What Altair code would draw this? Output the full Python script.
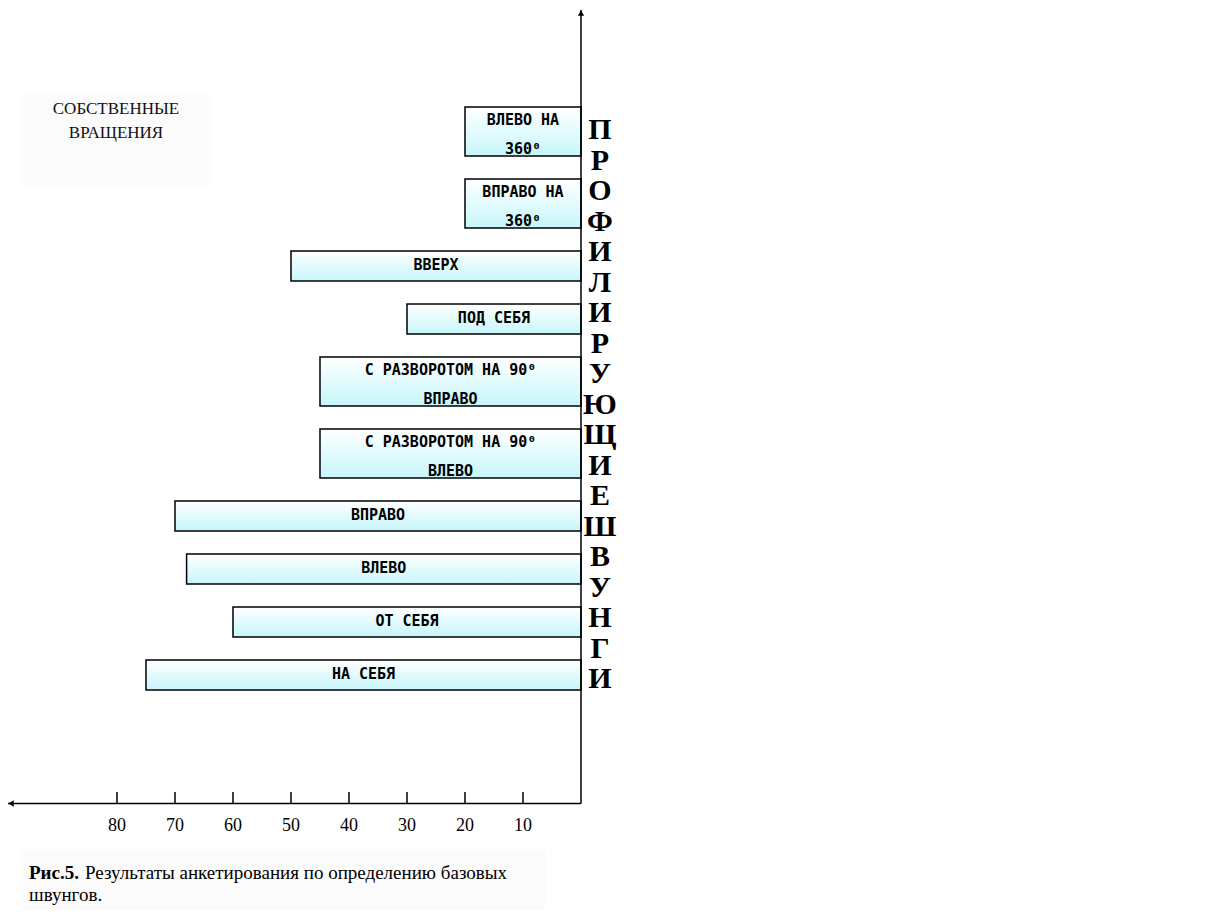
import altair as alt
import pandas as pd

# ---------------- data ----------------
labels = [
    "ВЛЕВО НА\n360⁰",
    "ВПРАВО НА\n360⁰",
    "ВВЕРХ",
    "ПОД СЕБЯ",
    "С РАЗВОРОТОМ НА 90⁰\nВПРАВО",
    "С РАЗВОРОТОМ НА 90⁰\nВЛЕВО",
    "ВПРАВО",
    "ВЛЕВО",
    "ОТ СЕБЯ",
    "НА СЕБЯ",
]
values = [20, 20, 50, 30, 45, 45, 70, 68, 60, 75]
tick_values = [10, 20, 30, 40, 50, 60, 70, 80]

side_title = "П\nР\nО\nФ\nИ\nЛ\nИ\nР\nУ\nЮ\nЩ\nИ\nЕ\n \nШ\nВ\nУ\nН\nГ\nИ"
box_title = "СОБСТВЕННЫЕ\nВРАЩЕНИЯ"
caption_bold = "Рис.5."
caption_rest = "Результаты анкетирования по определению базовых"
caption_line2 = "швунгов."

# ---------------- layout ----------------
PLOT_W, PLOT_H = 573, 600
X_MAX = 98.79  # value at the left edge of the plot area

df = pd.DataFrame({"label": labels, "value": values, "order": list(range(len(values)))})
ticks = pd.DataFrame({"tick": tick_values})
one = pd.DataFrame({"a": [0]})

xs = alt.Scale(domain=[0, X_MAX], reverse=True, nice=False, zero=False)
ys = alt.Scale(domain=[0, PLOT_H], reverse=True, nice=False, zero=False)

gradient = alt.Gradient(
    gradient="linear",
    stops=[alt.GradientStop(color="#ffffff", offset=0),
           alt.GradientStop(color="#c6f6fb", offset=1)],
    x1=0, x2=0, y1=0, y2=1,
)

base = (
    alt.Chart(df)
    .transform_calculate(
        lines="indexof(datum.label, '\\n') >= 0 ? 2 : 1",
    )
    .transform_calculate(h="datum.lines == 2 ? 49 : 30")
    .transform_calculate(slot="datum.h + 23")
    .transform_window(cum="sum(slot)", sort=[alt.SortField("order")], frame=[None, 0])
    .transform_calculate(top="5 + datum.cum - datum.slot")
    .transform_calculate(
        bottom="datum.top + datum.h",
        mid="datum.value / 2",
        ly="datum.top + 14 - (datum.lines - 1) * 1",
    )
)

bars = base.mark_rect(color=gradient, stroke="black", strokeWidth=1.5).encode(
    x=alt.X("value:Q", scale=xs, axis=None),
    x2=alt.datum(0),
    y=alt.Y("top:Q", scale=ys, axis=None),
    y2="bottom:Q",
)

bar_text = base.mark_text(
    font="DejaVu Sans Mono", fontWeight="bold", fontSize=15,
    lineBreak="\n", lineHeight=29, baseline="middle", align="center", color="black",
).encode(
    x=alt.X("mid:Q", scale=xs, axis=None),
    y=alt.Y("ly:Q", scale=ys, axis=None),
    text="label:N",
)

# axes drawn as arrows
h_axis = alt.Chart(one).mark_rule(color="black", strokeWidth=1.5).encode(
    x=alt.value(0), x2=alt.value(PLOT_W), y=alt.value(701.5)
)
v_axis = alt.Chart(one).mark_rule(color="black", strokeWidth=1.5).encode(
    x=alt.value(PLOT_W), y=alt.value(-92), y2=alt.value(701.5)
)
left_arrow = alt.Chart(one).mark_point(shape="triangle-left", filled=True, color="black", size=40, opacity=1).encode(
    x=alt.value(3), y=alt.value(701.5)
)
up_arrow = alt.Chart(one).mark_point(shape="triangle-up", filled=True, color="black", size=40, opacity=1).encode(
    x=alt.value(PLOT_W), y=alt.value(-89)
)

tick_rules = alt.Chart(ticks).mark_rule(color="black", strokeWidth=1.5).encode(
    x=alt.X("tick:Q", scale=xs, axis=None), y=alt.value(690), y2=alt.value(702)
)
tick_labels = alt.Chart(ticks).mark_text(
    font="Liberation Serif", fontSize=18, baseline="middle", align="center", color="black"
).encode(
    x=alt.X("tick:Q", scale=xs, axis=None), y=alt.value(724), text="tick:Q"
)

side = alt.Chart(one).mark_text(
    font="Liberation Serif", fontSize=30, fontWeight="bold", lineBreak="\n", lineHeight=30.5,
    baseline="alphabetic", align="center", color="black", text=side_title,
).encode(x=alt.value(592), y=alt.value(37))

box_bg = alt.Chart(one).mark_rect(color="#fbfbfb").encode(
    x=alt.value(12), x2=alt.value(204), y=alt.value(-7), y2=alt.value(83)
)
box_text = alt.Chart(one).mark_text(
    font="Liberation Serif", fontSize=17, lineBreak="\n", lineHeight=24,
    baseline="alphabetic", align="center", color="#111111", text=box_title,
).encode(x=alt.value(108), y=alt.value(12))

cap_bg = alt.Chart(one).mark_rect(color="#fbfbfb").encode(
    x=alt.value(12), x2=alt.value(537), y=alt.value(747), y2=alt.value(808)
)
cap1 = alt.Chart(one).mark_text(
    font="Liberation Serif", fontSize=19, fontWeight="bold", baseline="alphabetic",
    align="left", color="black", text=caption_bold,
).encode(x=alt.value(21), y=alt.value(777))
cap2 = alt.Chart(one).mark_text(
    font="Liberation Serif", fontSize=19, baseline="alphabetic",
    align="left", color="black", text=caption_rest,
).encode(x=alt.value(77), y=alt.value(777))
cap3 = alt.Chart(one).mark_text(
    font="Liberation Serif", fontSize=19, baseline="alphabetic",
    align="left", color="black", text=caption_line2,
).encode(x=alt.value(21), y=alt.value(799))

chart = alt.layer(
    box_bg, cap_bg, bars, bar_text, h_axis, v_axis, left_arrow, up_arrow,
    tick_rules, tick_labels, side, box_text, cap1, cap2, cap3,
).properties(
    width=PLOT_W,
    height=PLOT_H,
    autosize=alt.AutoSizeParams(type="none"),
    padding={"left": 0, "top": 94, "right": 1199 - PLOT_W, "bottom": 902 - 94 - PLOT_H},
).configure_view(stroke=None)

chart.save("out.html", embed_options={"renderer": "svg", "actions": False})
